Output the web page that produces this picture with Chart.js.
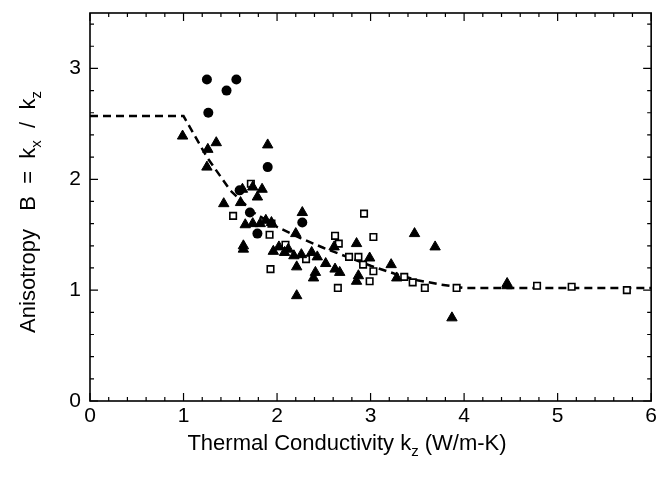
<!DOCTYPE html>
<html>
<head>
<meta charset="utf-8">
<script src="https://cdn.jsdelivr.net/npm/chart.js@4/dist/chart.umd.min.js"></script>
<style>
  html, body { margin: 0; background: #fff; }
</style>
</head>
<body>
<canvas id="grafico" width="660" height="479"></canvas>
<script>
// data
const circleX = [1.25, 1.565, 1.46, 1.265, 1.90, 1.60, 1.71, 1.79, 2.27];
const circleY = [2.90, 2.90, 2.80, 2.60, 2.11, 1.90, 1.70, 1.51, 1.61];

const triangleX = [0.99, 1.26, 1.35, 1.25, 1.90, 1.43, 1.61, 1.63, 1.74, 1.84, 1.79, 1.66, 1.74, 1.82, 1.88, 1.94,
  1.64, 1.64, 2.27, 2.20, 1.96, 2.02, 2.08, 2.12, 2.18, 2.26, 2.37, 2.43, 2.52, 2.21, 2.41, 2.39, 2.21,
  2.62, 2.67, 2.61, 2.85, 2.99, 2.87, 2.85, 3.22, 3.28, 3.47, 3.69, 3.87, 4.46, 4.46];
const triangleY = [2.39, 2.27, 2.33, 2.11, 2.31, 1.78, 1.79, 1.91, 1.93, 1.91, 1.84, 1.59, 1.60, 1.60, 1.63, 1.61,
  1.40, 1.37, 1.70, 1.51, 1.35, 1.39, 1.34, 1.37, 1.31, 1.32, 1.34, 1.30, 1.24, 1.21, 1.16, 1.11, 0.95,
  1.19, 1.16, 1.39, 1.42, 1.29, 1.13, 1.08, 1.23, 1.11, 1.51, 1.39, 0.75, 1.06, 1.04];

const squareX = [1.72, 1.53, 1.94, 1.92, 1.93, 2.09, 2.31, 2.62, 2.66, 2.65, 2.77, 2.87, 2.92, 3.03,
  2.93, 3.03, 2.99, 3.36, 3.45, 3.58, 3.92, 4.78, 5.15, 5.74];
const squareY = [1.96, 1.67, 1.60, 1.50, 1.19, 1.41, 1.28, 1.49, 1.42, 1.02, 1.30, 1.30, 1.23, 1.17,
  1.69, 1.48, 1.08, 1.12, 1.07, 1.02, 1.02, 1.04, 1.03, 1.00];

// dashed model curve
const curveX = [0, 1, 1.25, 1.5, 1.75, 2, 2.25, 2.5, 2.75, 3, 3.25, 3.5, 3.75, 4, 6];
const curveY = [2.57, 2.57, 2.2, 1.9, 1.7, 1.57, 1.47, 1.38, 1.3, 1.22, 1.15, 1.09, 1.05, 1.02, 1.02];

const xTicks = [0, 1, 2, 3, 4, 5, 6];
const yTicks = [0, 1, 2, 3];

const pontos = (xs, ys) => xs.map((x, i) => ({ x, y: ys[i] }));
const FONTE = '"Liberation Sans", Arial, sans-serif';

// text with subscripts: parts = [[texto, subscrito?], ...]
function textoSub(ctx, parts, cx, cy, size) {
  const big = size + 'px ' + FONTE;
  const small = Math.round(size * 0.68) + 'px ' + FONTE;
  let total = 0;
  parts.forEach(([t, sub]) => { ctx.font = sub ? small : big; total += ctx.measureText(t).width; });
  let x = cx - total / 2;
  ctx.textAlign = 'left';
  ctx.textBaseline = 'alphabetic';
  parts.forEach(([t, sub]) => {
    ctx.font = sub ? small : big;
    ctx.fillText(t, x, cy + (sub ? size * 0.25 : 0));
    x += ctx.measureText(t).width;
  });
}

const moldura = {
  id: 'moldura',
  afterDraw(chart) {
    const { ctx, chartArea: a, scales: { x, y } } = chart;
    ctx.save();
    ctx.strokeStyle = '#000';
    ctx.lineWidth = 1.6;
    ctx.strokeRect(a.left, a.top, a.right - a.left, a.bottom - a.top);

    // inward ticks, minor every 0.2
    ctx.lineWidth = 1.2;
    ctx.beginPath();
    for (let i = 0; i <= 30; i++) {
      const px = x.getPixelForValue(i * 0.2);
      const len = i % 5 === 0 ? 8 : 4;
      ctx.moveTo(px, a.bottom); ctx.lineTo(px, a.bottom - len);
      ctx.moveTo(px, a.top); ctx.lineTo(px, a.top + len);
    }
    for (let i = 0; i <= 17; i++) {
      const py = y.getPixelForValue(i * 0.2);
      const len = i % 5 === 0 ? 8 : 4;
      ctx.moveTo(a.left, py); ctx.lineTo(a.left + len, py);
      ctx.moveTo(a.right, py); ctx.lineTo(a.right - len, py);
    }
    ctx.stroke();

    // axis titles
    ctx.fillStyle = '#000';
    textoSub(ctx, [['Thermal Conductivity k', false], ['z', true], [' (W/m-K)', false]], 347, 450, 22);
    ctx.translate(35, 212);
    ctx.rotate(-Math.PI / 2);
    textoSub(ctx, [['Anisotropy   B  =  k', false], ['x', true], ['  /  k', false], ['z', true]], 0, 0, 22);
    ctx.restore();
  }
};

const config = {
  type: 'scatter',
  data: {
    datasets: [
      {
        label: 'circles',
        data: pontos(circleX, circleY),
        pointStyle: 'circle',
        pointRadius: 5,
        backgroundColor: '#000',
        borderColor: '#000',
        borderWidth: 0
      },
      {
        label: 'triangles',
        data: pontos(triangleX, triangleY),
        pointStyle: 'triangle',
        pointRadius: 6,
        backgroundColor: '#000',
        borderColor: '#000',
        borderWidth: 1
      },
      {
        label: 'squares',
        data: pontos(squareX, squareY),
        pointStyle: 'rect',
        pointRadius: 4.6,
        backgroundColor: '#fff',
        borderColor: '#000',
        borderWidth: 1.6
      },
      {
        type: 'line',
        label: 'model',
        data: pontos(curveX, curveY),
        showLine: true,
        pointRadius: 0,
        borderColor: '#000',
        borderWidth: 2.5,
        borderDash: [8, 5],
        tension: 0,
        fill: false
      }
    ]
  },
  options: {
    responsive: false,
    animation: false,
    devicePixelRatio: 1,
    layout: { padding: { top: 13, right: 8, left: 0, bottom: 0 } },
    plugins: {
      legend: { display: false },
      tooltip: { enabled: false }
    },
    scales: {
      x: {
        type: 'linear',
        min: 0,
        max: 6,
        afterBuildTicks: (s) => { s.ticks = xTicks.map(v => ({ value: v })); },
        afterFit: (s) => { s.height = 78; },
        grid: { display: false, drawTicks: false },
        border: { display: false },
        ticks: {
          color: '#000',
          font: { family: FONTE, size: 21 },
          padding: 3,
          maxRotation: 0
        }
      },
      y: {
        type: 'linear',
        min: 0,
        max: 3.5,
        afterBuildTicks: (s) => { s.ticks = yTicks.map(v => ({ value: v })); },
        afterFit: (s) => { s.width = 90; s.paddingTop = 0; s.paddingBottom = 0; },
        grid: { display: false, drawTicks: false },
        border: { display: false },
        ticks: {
          color: '#000',
          font: { family: FONTE, size: 21 },
          padding: 9
        }
      }
    }
  },
  plugins: [moldura]
};

window._grafico = new Chart(document.getElementById('grafico').getContext('2d'), config);
</script>
</body>
</html>
